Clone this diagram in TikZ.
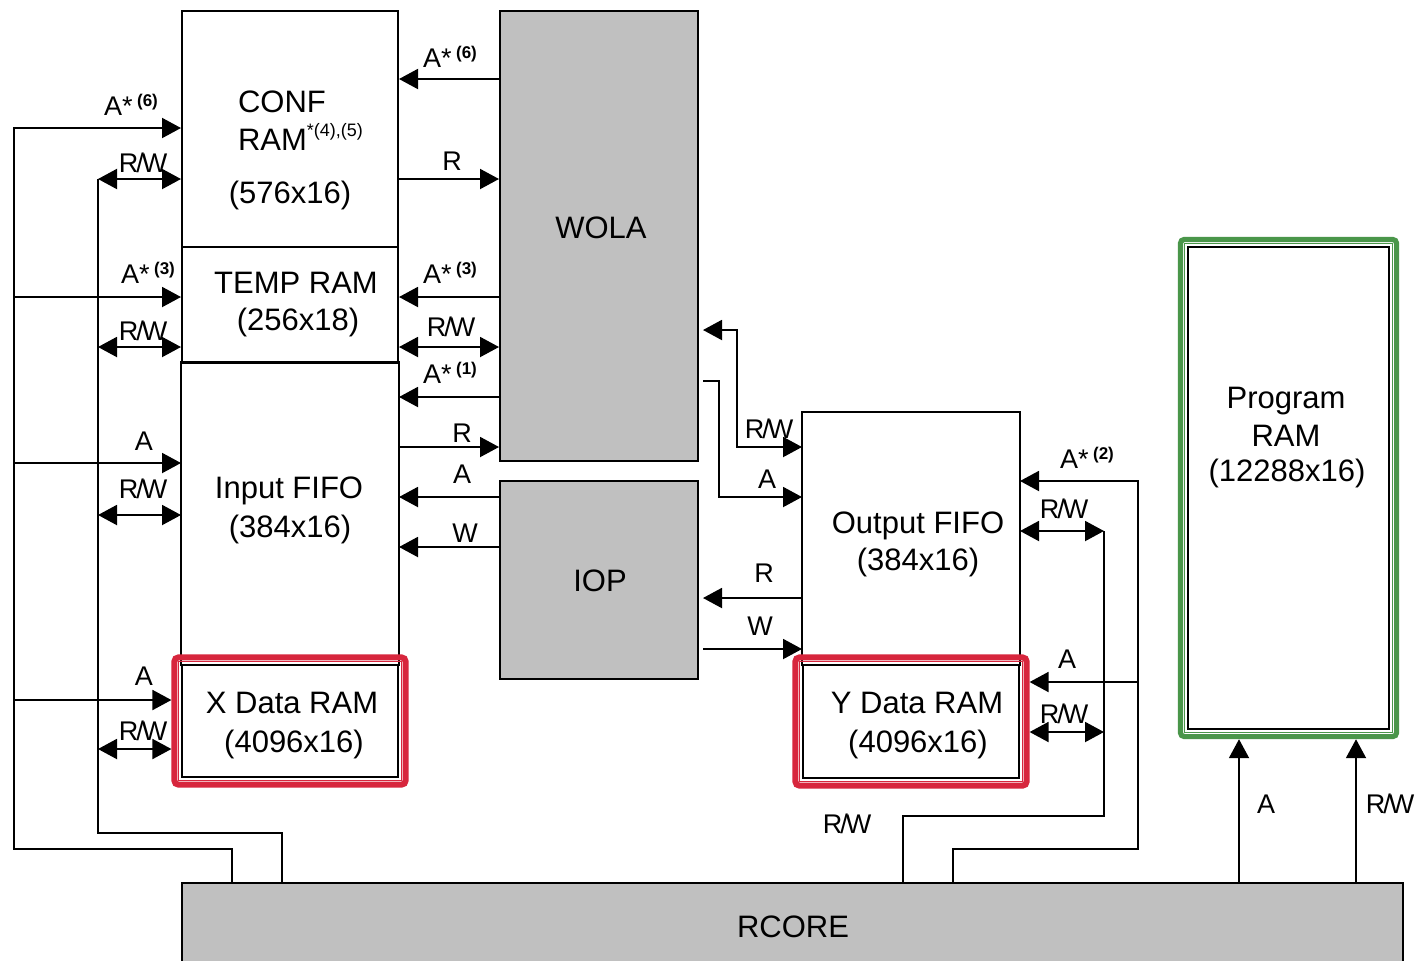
\documentclass[tikz,border=0pt]{standalone}
\usepackage{fontspec}
\setmainfont{Liberation Sans}
\usetikzlibrary{arrows.meta,fit,calc}
\definecolor{boxgray}{RGB}{192,192,192}
\definecolor{hired}{RGB}{215,38,61}
\definecolor{higreen}{RGB}{74,150,74}
\newcommand\sups[1]{\raisebox{0.62ex}{\fontsize{8.5}{9}\selectfont\bfseries(#1)}}
\newcommand\rw{R\kern-1pt/\kern-1pt W}
\begin{document}
\begin{tikzpicture}[x=0.5pt,y=-0.5pt,line width=1pt,
  bigtri/.tip={Triangle[length=9.5pt,width=10pt]},
  arr/.style={-bigtri},
  arrtwo/.style={bigtri-bigtri},
  blk/.style={draw=black,line width=1pt,inner sep=0pt},
  graybox/.style={blk,fill=boxgray},
  hollow/.style={inner sep=0pt},
  redframe/.style={draw=hired,line width=3pt,rounded corners=2pt,inner sep=3.3pt},
  redthin/.style={draw=hired,line width=0.5pt,inner sep=1.4pt},
  greenframe/.style={draw=higreen,line width=2.6pt,rounded corners=2pt,inner sep=3.3pt},
  greenthin/.style={draw=higreen,line width=0.5pt,inner sep=1.4pt},
  main/.style={font=\fontsize{15.5}{18}\selectfont,inner sep=0pt,anchor=base},
  lab/.style={font=\fontsize{13.5}{16}\selectfont,inner sep=0pt,anchor=base},
]
\useasboundingbox (0,0) rectangle (1417,960);
\fill[white] (0,0) rectangle (1417,960);

% ---- blocks
\node[blk,fit={(182,11)(398,247)}] (conf) {};
\node[blk,fit={(182,247)(398,363)}] (temp) {};
\node[hollow,fit={(182,363)(398,665)}] (ififo) {};
\draw (ififo.south west) |- (ififo.north east) -- (ififo.south east);
\node[blk,fill=white,fit={(182,665)(398,777)}] (xdata) {};
\node[redframe,fit=(xdata)] (xframe) {};
\node[redthin,fit=(xdata)] (xthin) {};

\node[graybox,fit={(500,11)(698,461)}] (wola) {};
\node[graybox,fit={(500,481)(698,679)}] (iop) {};

\node[hollow,fit={(803,413)(1019,665)}] (ofifo) {};
\draw (ofifo.south west) |- (ofifo.north east) -- (ofifo.south east);
\node[blk,fill=white,fit={(803,665)(1019,778)}] (ydata) {};
\node[redframe,fit=(ydata)] (yframe) {};
\node[redthin,fit=(ydata)] (ythin) {};

\node[blk,fit={(1188,247)(1389,729)}] (prog) {};
\node[greenframe,fit=(prog)] (pframe) {};
\node[greenthin,fit=(prog)] (pthin) {};

\node[graybox,fit={(182,883)(1403,975)}] (rcore) {};

% ---- block texts
\node[main,anchor=base west] (t1) at (237,112) {CONF};
\node[main,anchor=base west] (t2) at (237,150) {RAM\raisebox{0.8ex}{\fontsize{9}{9}\selectfont *(4),(5)}};
\node[main] (t3) at (290,203) {(576x16)};
\node[main] (t4) at (296,293) {TEMP RAM};
\node[main] (t5) at (298,330) {(256x18)};
\node[main] (t6) at (289,498) {Input FIFO};
\node[main] (t7) at (290,537) {(384x16)};
\node[main] (t8) at (292,713) {X Data RAM};
\node[main] (t9) at (294,752) {(4096x16)};
\node[main] (t10) at (601,238) {WOLA};
\node[main] (t11) at (600,591) {IOP};
\node[main] (t12) at (918,533) {Output FIFO};
\node[main] (t13) at (918,570) {(384x16)};
\node[main] (t14) at (917,713) {Y Data RAM};
\node[main] (t15) at (918,752) {(4096x16)};
\node[main] (t16) at (1286,408) {Program};
\node[main] (t17) at (1286,446) {RAM};
\node[main] (t18) at (1287,481) {(12288x16)};
\node[main] (t19) at (793,937) {RCORE};

% ---- buses on the left
\coordinate (busA) at (14,849);
\coordinate (busB) at (98,833);
\draw[arr] (rcore.north -| 232,0) |- (busA) |- (conf.west |- 0,128);
\draw[arr] (busA |- 0,297) -- (temp.west |- 0,297);
\draw[arr] (busA |- 0,463) -- (ififo.west |- 0,463);
\draw[arr] (busA |- 0,700) -- (xframe.west |- 0,700);
\draw (rcore.north -| 282,0) |- (busB) -- (busB |- 0,179);
\draw[arrtwo] (busB |- 0,179) -- (conf.west |- 0,179);
\draw[arrtwo] (busB |- 0,347) -- (temp.west |- 0,347);
\draw[arrtwo] (busB |- 0,515) -- (ififo.west |- 0,515);
\draw[arrtwo] (busB |- 0,749) -- (xframe.west |- 0,749);

% ---- WOLA / IOP to left column
\draw[arr] (wola.west |- 0,79) -- (conf.east |- 0,79);
\draw[arr] (conf.east |- 0,179) -- (wola.west |- 0,179);
\draw[arr] (wola.west |- 0,297) -- (temp.east |- 0,297);
\draw[arrtwo] (temp.east |- 0,347) -- (wola.west |- 0,347);
\draw[arr] (wola.west |- 0,397) -- (ififo.east |- 0,397);
\draw[arr] (ififo.east |- 0,447) -- (wola.west |- 0,447);
\draw[arr] (iop.west |- 0,497) -- (ififo.east |- 0,497);
\draw[arr] (iop.west |- 0,547) -- (ififo.east |- 0,547);

% ---- WOLA / IOP to Output FIFO
\draw[arrtwo] ($(wola.east |- 0,330)+(4,0)$) -| (737,447) -- (ofifo.west |- 0,447);
\draw[arr] ($(wola.east |- 0,381)+(4,0)$) -| (719,497) -- (ofifo.west |- 0,497);
\draw[arr] (ofifo.west |- 0,598) -- ($(iop.east |- 0,598)+(4,0)$);
\draw[arr] ($(iop.east |- 0,649)+(4,0)$) -- (ofifo.west |- 0,649);

% ---- buses on the right
\coordinate (busC) at (1138,849);
\coordinate (busD) at (1104,816);
\draw[arr] (rcore.north -| 953,0) |- (busC) |- (ofifo.east |- 0,481);
\draw[arr] (busC |- 0,682) -- (yframe.east |- 0,682);
\draw (rcore.north -| 903,0) |- (busD) -- (busD |- 0,531);
\draw[arrtwo] (ofifo.east |- 0,531) -- (busD |- 0,531);
\draw[arrtwo] (yframe.east |- 0,732) -- (busD |- 0,732);

% ---- program RAM
\draw[arr] (rcore.north -| 1239,0) -- (pframe.south -| 1239,0);
\draw[arr] (rcore.north -| 1356,0) -- (pframe.south -| 1356,0);

% ---- labels left
\node[lab] (l1) at (131,115) {A*\,\sups{6}};
\node[lab] (l2) at (143,172) {\rw};
\node[lab] (l3) at (148,283) {A*\,\sups{3}};
\node[lab] (l4) at (143,340) {\rw};
\node[lab] (l5) at (144,450) {A};
\node[lab] (l6) at (143,498) {\rw};
\node[lab] (l7) at (144,685) {A};
\node[lab] (l8) at (143,740) {\rw};
% ---- labels middle
\node[lab] (m1) at (450,67) {A*\,\sups{6}};
\node[lab] (m2) at (452,170) {R};
\node[lab] (m3) at (450,283) {A*\,\sups{3}};
\node[lab] (m4) at (451,336) {\rw};
\node[lab] (m5) at (450,383) {A*\,\sups{1}};
\node[lab] (m6) at (462,442) {R};
\node[lab] (m7) at (462,483) {A};
\node[lab] (m8) at (465,542) {W};
% ---- labels output side
\node[lab] (o1) at (769,438) {\rw};
\node[lab] (o2) at (767,488) {A};
\node[lab] (o3) at (764,582) {R};
\node[lab] (o4) at (760,635) {W};
\node[lab] (o5) at (1087,468) {A*\,\sups{2}};
\node[lab] (o6) at (1064,518) {\rw};
\node[lab] (o7) at (1067,668) {A};
\node[lab] (o8) at (1064,723) {\rw};
\node[lab] (o9) at (847,833) {\rw};
\node[lab] (p1) at (1266,813) {A};
\node[lab] (p2) at (1390,813) {\rw};
\end{tikzpicture}
\end{document}
